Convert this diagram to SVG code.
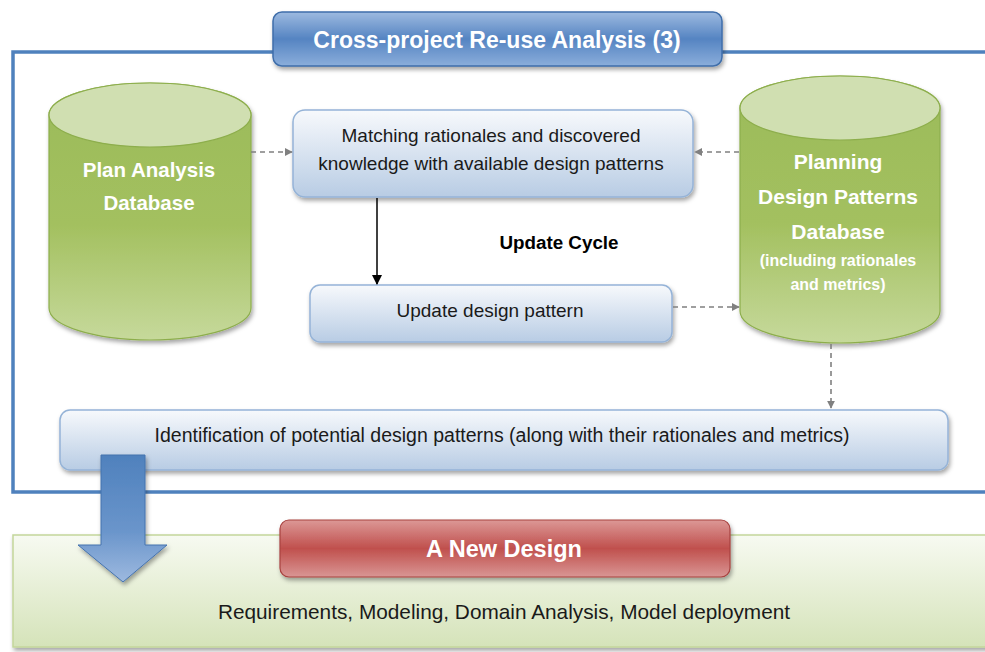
<svg xmlns="http://www.w3.org/2000/svg" width="985" height="652" viewBox="0 0 985 652">
<defs>
<style>
.t{font-family:"Liberation Sans",Arial,sans-serif;text-anchor:middle;}
.w{fill:#fff;font-weight:bold;}
.k{fill:#1a1a1a;}
.dash{stroke:#808080;stroke-width:1.6;stroke-dasharray:5 4;fill:none;}
.box{stroke:#95B3D7;stroke-width:1.5;fill:url(#gBox);filter:url(#sh);}
</style>
<linearGradient id="gBox" x1="0" y1="0" x2="0" y2="1">
<stop offset="0" stop-color="#F7F9FC"/><stop offset="1" stop-color="#B8CCE4"/>
</linearGradient>
<linearGradient id="gTitle" x1="0" y1="0" x2="0" y2="1">
<stop offset="0" stop-color="#9DBAE0"/><stop offset="0.5" stop-color="#5584C2"/><stop offset="1" stop-color="#8BAEDB"/>
</linearGradient>
<linearGradient id="gRed" x1="0" y1="0" x2="0" y2="1">
<stop offset="0" stop-color="#DC9896"/><stop offset="0.5" stop-color="#C0504D"/><stop offset="1" stop-color="#D99694"/>
</linearGradient>
<linearGradient id="gCyl" x1="0" y1="0" x2="0" y2="1">
<stop offset="0" stop-color="#9BBB59"/><stop offset="0.55" stop-color="#A3C05F"/><stop offset="1" stop-color="#C6D99B"/>
</linearGradient>
<linearGradient id="gGreen" x1="0" y1="0" x2="0" y2="1">
<stop offset="0" stop-color="#F7FAF1"/><stop offset="1" stop-color="#D5E3B9"/>
</linearGradient>
<linearGradient id="gArrow" x1="0" y1="0" x2="0" y2="1">
<stop offset="0" stop-color="#4F81BD"/><stop offset="0.6" stop-color="#6A95CB"/><stop offset="1" stop-color="#9DB9DF"/>
</linearGradient>
<filter id="sh" x="-10%" y="-20%" width="120%" height="150%">
<feDropShadow dx="1.5" dy="3" stdDeviation="2" flood-color="#000" flood-opacity="0.35"/>
</filter>
<marker id="mg" viewBox="0 0 10 10" refX="9" refY="5" markerWidth="5" markerHeight="5" orient="auto" markerUnits="strokeWidth">
<path d="M0,0 L10,5 L0,10 Z" fill="#808080"/>
</marker>
<marker id="mk" viewBox="0 0 10 10" refX="9" refY="5" markerWidth="7" markerHeight="7" orient="auto" markerUnits="strokeWidth">
<path d="M0,0 L10,5 L0,10 Z" fill="#000"/>
</marker>
</defs>
<rect width="985" height="652" fill="#fff"/>

<g id="frame">
<path d="M273,52 H13 V492 H987 M722,52 H987" fill="none" stroke="#4F81BD" stroke-width="3.5"/>
</g>

<g id="title">
<rect x="273" y="12" width="449" height="54" rx="9" fill="url(#gTitle)" stroke="#3F6EAA" stroke-width="1.5" filter="url(#sh)"/>
<text class="t w" x="497" y="48" font-size="23">Cross-project Re-use Analysis (3)</text>
</g>

<g id="plan-db">
<path d="M49,115 V308 A101,32 0 0 0 251,308 V115 A101,32 0 0 0 49,115 Z" fill="url(#gCyl)" stroke="#8DAE4C" stroke-width="1.2" filter="url(#sh)"/>
<ellipse cx="150" cy="115" rx="101" ry="32" fill="#D0DFB1" stroke="#8DAE4C" stroke-width="1.2"/>
<text class="t w" x="149" y="177" font-size="20.5">Plan Analysis</text>
<text class="t w" x="149" y="210" font-size="20.5">Database</text>
</g>

<g id="patterns-db">
<path d="M740,108 V311 A100,32 0 0 0 940,311 V108 A100,32 0 0 0 740,108 Z" fill="url(#gCyl)" stroke="#8DAE4C" stroke-width="1.2" filter="url(#sh)"/>
<ellipse cx="840" cy="108" rx="100" ry="32" fill="#D0DFB1" stroke="#8DAE4C" stroke-width="1.2"/>
<text class="t w" x="838" y="169" font-size="21">Planning</text>
<text class="t w" x="838" y="204" font-size="21">Design Patterns</text>
<text class="t w" x="838" y="239" font-size="21">Database</text>
<text class="t w" x="838" y="266" font-size="16">(including rationales</text>
<text class="t w" x="838" y="290" font-size="16">and metrics)</text>
</g>

<g id="matching">
<rect class="box" x="293" y="110" width="400" height="87" rx="12"/>
<text class="t k" x="491" y="142" font-size="19">Matching rationales and discovered</text>
<text class="t k" x="491" y="170" font-size="19">knowledge with available design patterns</text>
</g>

<g id="update">
<rect class="box" x="310" y="285" width="362" height="57" rx="10"/>
<text class="t k" x="490" y="317" font-size="19">Update design pattern</text>
</g>

<g id="update-cycle">
<text class="t" x="559" y="249" font-size="18.8" font-weight="bold" fill="#000">Update Cycle</text>
</g>

<g id="identification">
<rect class="box" x="60" y="410" width="888" height="60" rx="10"/>
<text class="t k" x="502" y="442" font-size="19.5">Identification of potential design patterns (along with their rationales and metrics)</text>
</g>

<g id="new-design-panel">
<rect x="13" y="535" width="975" height="112" fill="url(#gGreen)" stroke="#C3D69B" stroke-width="1.5" filter="url(#sh)"/>
<text class="t k" x="504" y="619" font-size="20.8">Requirements, Modeling, Domain Analysis, Model deployment</text>
</g>

<g id="new-design">
<rect x="280" y="520" width="450" height="57" rx="9" fill="url(#gRed)" stroke="#A8423F" stroke-width="1.2" filter="url(#sh)"/>
<text class="t w" x="504" y="557" font-size="23.5">A New Design</text>
</g>

<g id="connectors">
<line class="dash" x1="251" y1="152" x2="292" y2="152" marker-end="url(#mg)"/>
<line class="dash" x1="739" y1="152" x2="695" y2="152" marker-end="url(#mg)"/>
<line class="dash" x1="673" y1="307" x2="739" y2="307" marker-end="url(#mg)"/>
<line class="dash" x1="831" y1="344" x2="831" y2="408" marker-end="url(#mg)"/>
<line x1="377" y1="198" x2="377" y2="284" stroke="#000" stroke-width="1.5" marker-end="url(#mk)"/>
<path d="M101,455 H145 V545 H167 L123,582 L78,545 H101 Z" fill="url(#gArrow)" stroke="#4472AE" stroke-width="1" filter="url(#sh)"/>
</g>
</svg>
